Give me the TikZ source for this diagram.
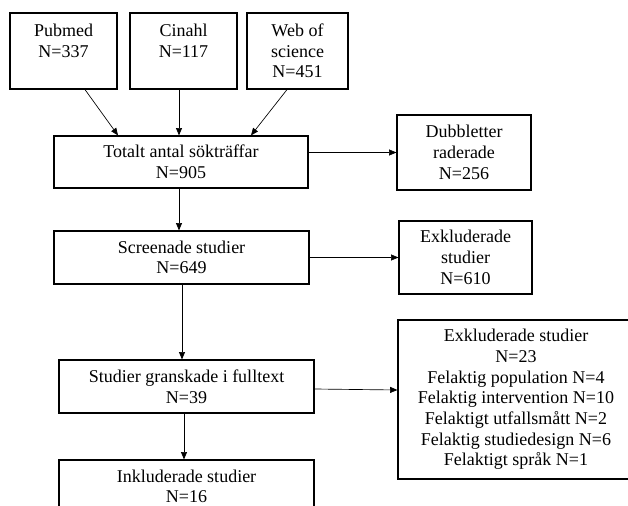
\documentclass[tikz,border=0pt]{standalone}
\usepackage{fontspec}
\setmainfont{Liberation Serif}
\usepackage{tikz}
\usetikzlibrary{positioning, arrows.meta, calc}

\begin{document}
\begin{tikzpicture}[
  x=0.75pt, y=-0.75pt,
  every node/.style={font=\fontsize{13.5}{15.5}\selectfont},
  box/.style={draw, line width=0.9pt, align=center, inner sep=0pt},
  arr/.style={-{Triangle[length=5.5pt, width=4.5pt]}, line width=0.5pt}
]
\useasboundingbox (0,0) rectangle (628,506);

% sources
\node[box, minimum width=80.25pt, minimum height=57pt] (pubmed) at (63.5,51)
  {Pubmed\\N=337\\\phantom{N}};
\node[box, minimum width=80.25pt, minimum height=57pt] (cinahl) at (183.5,51)
  {Cinahl\\N=117\\\phantom{N}};
\node[box, minimum width=75.75pt, minimum height=57pt] (wos) at (297.5,51)
  {Web of\\science\\N=451};

% main flow
\node[box, minimum width=190.5pt, minimum height=39pt] (totalt) at (181,162)
  {Totalt antal sökträffar\\N=905};
\node[box, minimum width=191.25pt, minimum height=39.75pt] (screen) at (181.5,257.5)
  {Screenade studier\\N=649};
\node[box, minimum width=191.25pt, minimum height=39.75pt] (fulltext) at (186.5,386.5)
  {Studier granskade i fulltext\\N=39};
\node[box, minimum width=191.25pt, minimum height=39.75pt] (inkl) at (186.5,486.5)
  {Inkluderade studier\\N=16};

% excluded
\node[box, minimum width=100.5pt, minimum height=56.25pt] (dubbl) at (464,152.5)
  {Dubbletter\\raderade\\N=256};
\node[box, minimum width=99.75pt, minimum height=54.75pt] (exkl1) at (465.5,257.5)
  {Exkluderade\\studier\\N=610};
\node[box, minimum width=177pt, minimum height=119.25pt] (exkl2) at (516,399.5)
  {Exkluderade studier\\N=23\\Felaktig population N=4\\Felaktig intervention N=10\\
   Felaktigt utfallsmått N=2\\Felaktig studiedesign N=6\\Felaktigt språk N=1};

% arrows
\draw[arr] ($(pubmed.south)+(21.5,0)$) -- ($(totalt.north)+(-63,0)$);
\draw[arr] ($(cinahl.south)+(-4.5,0)$) -- ($(totalt.north)+(-2,0)$);
\draw[arr] ($(wos.south)+(-10.5,0)$) -- ($(totalt.north)+(70,0)$);
\draw[arr] ($(totalt.south)+(-2,0)$) -- ($(screen.north)+(-2.5,0)$);
\draw[arr] ($(screen.south)+(0.5,0)$) -- ($(fulltext.north)+(-4.5,0)$);
\draw[arr] ($(fulltext.south)+(-2.5,0)$) -- ($(inkl.north)+(-2.5,0)$);
\draw[arr] (totalt.east |- dubbl.west) -- (dubbl.west);
\draw[arr] (screen.east) -- (exkl1.west);
\draw[arr] ($(fulltext.east)+(0,2.5)$) -- ($(exkl2.west)+(0,-9.5)$);
\end{tikzpicture}
\end{document}
